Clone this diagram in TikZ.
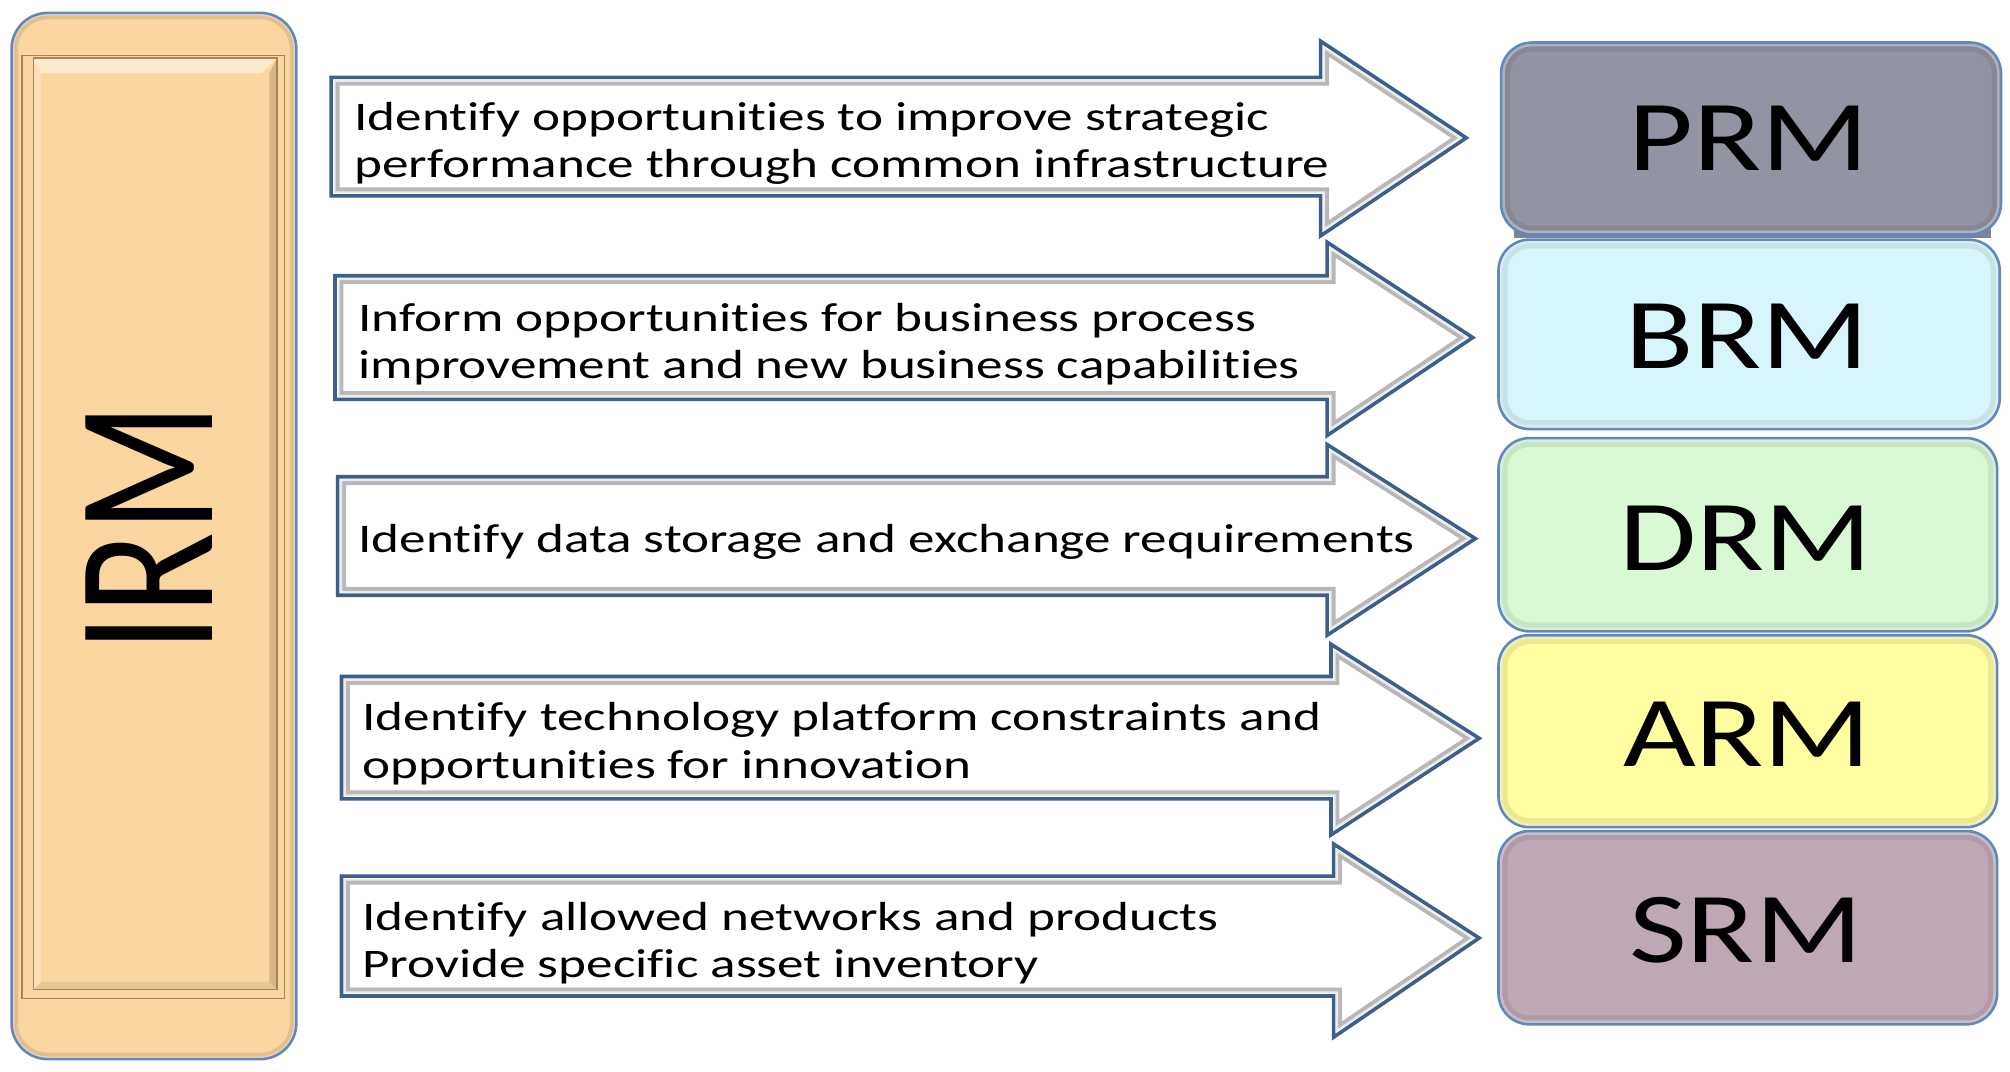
\documentclass[tikz,border=0pt]{standalone}
\usepackage{fontspec}
\setmainfont{Carlito}
\newfontfamily\bodyfont{Carlito}[FakeStretch=1.31, Ligatures=NoCommon]
\newfontfamily\labelfont{Carlito}[FakeStretch=1.25]
\definecolor{peach}{HTML}{FCD6A1}
\definecolor{peachdark}{HTML}{A98456}
\definecolor{edgeblue}{HTML}{5F88C0}
\definecolor{arrowblue}{HTML}{3D5F8B}
\definecolor{prmc}{HTML}{9394A3}
\definecolor{brmc}{HTML}{D7F6FC}
\definecolor{drmc}{HTML}{D9F9D5}
\definecolor{armc}{HTML}{FFFEA0}
\definecolor{srmc}{HTML}{BFA8B5}
\tikzset{
  bodytext/.style={anchor=base west, inner sep=0pt, font=\bodyfont\fontsize{31.5}{37}\selectfont},
  reftext/.style={anchor=center, inner sep=0pt, font=\labelfont\fontsize{78}{80}\selectfont},
  refbox/.style={draw=edgeblue, line width=2pt, rounded corners=24pt},
  arrowedge/.style={draw=arrowblue, line width=2.8pt, line join=miter},
}
% #1 xl, #2 yt, #3 yb, #4 xn, #5 yht, #6 yhb, #7 xt, #8 ym
\newcommand\blockarrow[8]{%
  \fill[white] (#1,#2) -- (#4,#2) -- (#4,#5) -- (#7,#8) -- (#4,#6) -- (#4,#3) -- (#1,#3) -- cycle;
  \begin{scope}
    \clip (#1,#2) -- (#4,#2) -- (#4,#5) -- (#7,#8) -- (#4,#6) -- (#4,#3) -- (#1,#3) -- cycle;
    \draw[line width=13pt, black!28] (#1,#2) -- (#4,#2) -- (#4,#5) -- (#7,#8) -- (#4,#6) -- (#4,#3) -- (#1,#3) -- cycle;
    \draw[line width=7pt, black!8] (#1,#2) -- (#4,#2) -- (#4,#5) -- (#7,#8) -- (#4,#6) -- (#4,#3) -- (#1,#3) -- cycle;
    \draw[line width=4pt, white] (#1,#2) -- (#4,#2) -- (#4,#5) -- (#7,#8) -- (#4,#6) -- (#4,#3) -- (#1,#3) -- cycle;
  \end{scope}
  \draw[arrowedge] (#1,#2) -- (#4,#2) -- (#4,#5) -- (#7,#8) -- (#4,#6) -- (#4,#3) -- (#1,#3) -- cycle;
}
% #1 name, #2 colour, #3 x0, #4 y0, #5 x1, #6 y1
\newcommand\refpanel[6]{%
  \fill[#2, rounded corners=24pt] (#3,#4) rectangle (#5,#6);
  \begin{scope}
    \clip[rounded corners=24pt] (#3,#4) rectangle (#5,#6);
    \draw[#2!82!black, line width=14pt, opacity=.45, rounded corners=24pt] (#3,#4) rectangle (#5,#6);
    \draw[white, line width=6pt, opacity=.35, rounded corners=24pt] (#3,#4) rectangle (#5,#6);
  \end{scope}
  \draw[refbox] (#3,#4) rectangle (#5,#6);
}
\begin{document}
\begin{tikzpicture}[x=1pt,y=-1pt]
\useasboundingbox (0,0) rectangle (1560,832);

% ---------- IRM column ----------
\fill[peach, rounded corners=28pt] (9,10) rectangle (230,822);
\begin{scope}
  \clip[rounded corners=28pt] (9,10) rectangle (230,822);
  \draw[peach!70!black, line width=10pt, opacity=.35, rounded corners=28pt] (9,10) rectangle (230,822);
  \draw[white, line width=4pt, opacity=.35, rounded corners=28pt] (9,10) rectangle (230,822);
\end{scope}
\draw[edgeblue, line width=2pt, rounded corners=28pt] (9,10) rectangle (230,822);
% bevelled inner panel
\fill[peach!55!white] (26,45) -- (215,45) -- (203,57) -- (32,57) -- cycle;
\fill[peach!92!black] (26,768) -- (215,768) -- (209,762) -- (32,762) -- cycle;
\fill[peach!75!white] (26,45) -- (32,57) -- (32,762) -- (26,768) -- cycle;
\fill[peach!85!black] (215,45) -- (209,57) -- (209,762) -- (215,768) -- cycle;
\draw[peachdark, line width=0.9pt] (26,45) rectangle (215,768);
\draw[peachdark, line width=1pt] (17,43) -- (221,43) (17,775) -- (221,775)
  (17,43) -- (17,775) (221,43) -- (221,775);
\node[inner sep=0pt] (irm) at (116,410)
  {\scalebox{1.31}[1]{\rotatebox{90}{\fontsize{117}{117}\selectfont IRM}}};

% ---------- arrows ----------
\blockarrow{257}{60}{152}{1025}{32}{183}{1138}{107}
\blockarrow{260}{214}{310}{1030}{188}{338}{1143}{262}
\blockarrow{262}{370}{462}{1030}{345}{493}{1145}{418}
\blockarrow{265}{525}{620}{1033}{500}{648}{1148}{573}
\blockarrow{265}{680}{773}{1035}{655}{805}{1148}{728}

\node[bodytext] (t1) at (275,101)
  {\parbox[t]{900pt}{\raggedright Identify opportunities to improve strategic\\performance through common infrastructure}};
\node[bodytext] (t2) at (278,257)
  {\parbox[t]{900pt}{\raggedright Inform opportunities for business process\\improvement and new business capabilities}};
\node[bodytext] (t3) at (278,429)
  {Identify data storage and exchange requirements};
\node[bodytext] (t4) at (281,567)
  {\parbox[t]{900pt}{\raggedright Identify technology platform constraints and\\opportunities for innovation}};
\node[bodytext] (t5) at (281,722)
  {\parbox[t]{900pt}{\raggedright Identify allowed networks and products\\Provide specific asset inventory}};

% ---------- reference models ----------
\fill[prmc!88!black] (1175,38) rectangle (1545,185);
\refpanel{prm}{prmc}{1165}{33}{1553}{182}
\refpanel{brm}{brmc}{1163}{186}{1552}{333}
\refpanel{drm}{drmc}{1163}{340}{1550}{490}
\refpanel{arm}{armc}{1163}{493}{1550}{642}
\refpanel{srm}{srmc}{1163}{645}{1550}{795}

\node[reftext] (prm) at (1357,107) {PRM};
\node[reftext] (brm) at (1356,261) {BRM};
\node[reftext] (drm) at (1355,418) {DRM};
\node[reftext] (arm) at (1356,570) {ARM};
\node[reftext] (srm) at (1355,722) {SRM};
\end{tikzpicture}
\end{document}
